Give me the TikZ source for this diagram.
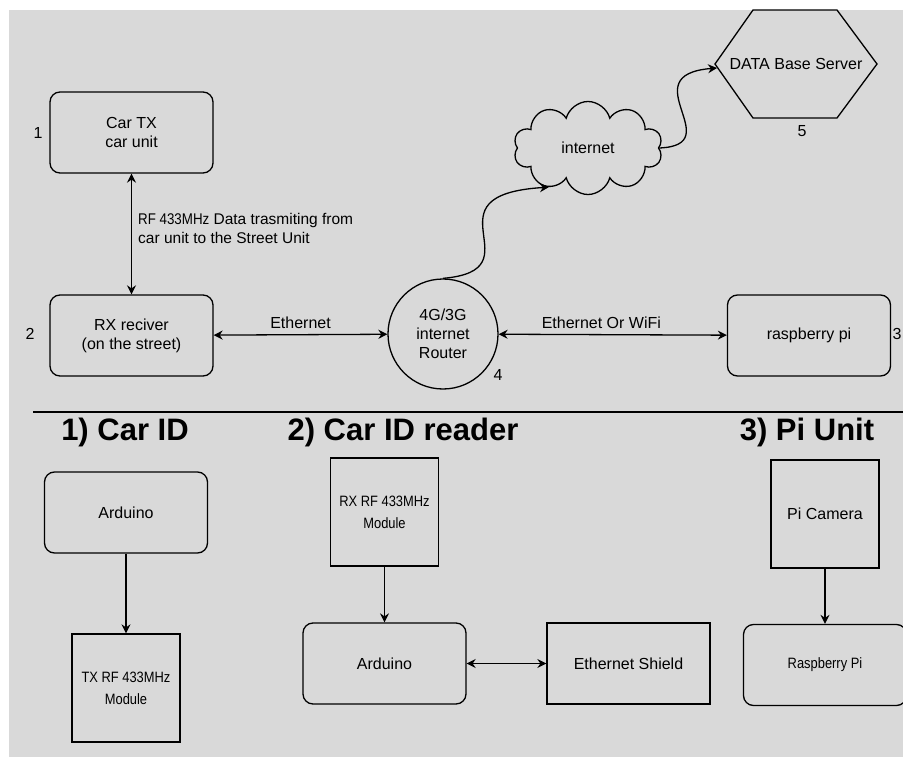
\documentclass[tikz,border=0pt]{standalone}
\usepackage{fontspec}
\setmainfont{Liberation Sans}
\newfontfamily\narrowfont[FakeStretch=0.86]{Liberation Sans}
\usetikzlibrary{arrows.meta}
\usetikzlibrary{positioning}
\usetikzlibrary{shapes.symbols}

\definecolor{bggray}{RGB}{217,217,217}

\tikzset{
  unit/.style={draw, rounded corners=10pt, line width=1.3pt, minimum width=163pt,
    minimum height=81pt, align=center, font=\fontsize{16}{19}\selectfont},
  module/.style={draw, line width=1.3pt, minimum width=108pt, minimum height=108pt,
    align=center, font=\fontsize{16}{19}\selectfont},
  link/.style={line width=1.3pt, -{Stealth[length=9pt,width=9pt,inset=3pt]}},
  both/.style={line width=1.3pt, {Stealth[length=9pt,width=9pt,inset=3pt]}-{Stealth[length=9pt,width=9pt,inset=3pt]}},
  num/.style={font=\fontsize{16}{19}\selectfont},
  txt/.style={font=\fontsize{16}{19}\selectfont},
  title/.style={font=\fontsize{31}{36}\selectfont\bfseries},
}

\begin{document}
\begin{tikzpicture}[x=1pt, y=-1pt]
  \fill[bggray] (9,10) rectangle (903,757);
  \useasboundingbox (0,0) rectangle (903,757);

  % street side
  \node[unit] (cartx) at (131.5,132.5) {Car TX\\car unit};
  \node[unit] (rxst) at (131.5,335.5) {RX reciver\\(on the street)};
  \node[circle, draw, line width=1.3pt, minimum size=110pt, inner sep=0pt, align=center,
    font=\fontsize{16}{19}\selectfont] (router) at (443,334) {4G/3G\\internet\\Router};
  \node[unit] (rpi) at (809,335.5) {raspberry pi};
  \node[cloud, cloud puffs=10, cloud ignores aspect, draw, line width=1.3pt,
    minimum width=149pt, minimum height=93pt, txt] (inet) at (588,148) {internet};
  % hexagon for the server
  \draw[line width=1.3pt] (715,64) -- (753,10) -- (837,10) -- (877,64)
    -- (837,118) -- (753,118) -- cycle;
  \node[txt] (db) at (796,64) {DATA Base Server};
  \coordinate (dbin) at (717,68);

  \node[num] (n1) at (38,133) {1};
  \node[num] (n2) at (30,334) {2};
  \node[num] (n3) at (897,334) {3};
  \node[num] (n4) at (498,375) {4};
  \node[num] (n5) at (802,131) {5};

  \draw[both] (cartx) -- (rxst);
  \node[anchor=north west, align=left, inner sep=0pt, font=\fontsize{15.5}{19}\selectfont]
    (rflabel) at (138,213) {{\narrowfont RF 433MHz} Data trasmiting from\\car unit to the Street Unit};
  \draw[both] (rxst) -- node[above=2pt, txt] {Ethernet} (router);
  \draw[both] (router) -- node[above=2pt, pos=0.45, txt] {Ethernet Or WiFi} (rpi);
  \draw[link] (router.north) .. controls (540,270) and (420,195) .. (inet.225);
  \draw[link] (inet.east) .. controls (730,145) and (630,75) .. (dbin);

  \draw[line width=1.3pt] (33,412) -- (903,412);

  % units
  \node[title] (t1) at (125,432) {1) Car ID};
  \node[title] (t2) at (403,432) {2) Car ID reader};
  \node[title] (t3) at (807,432) {3) Pi Unit};

  \node[unit] (ard1) at (126,512.5) {Arduino};
  \node[module, font=\narrowfont\fontsize{15}{22}\selectfont] (txmod) at (126,688) {TX RF 433MHz\\Module};
  \draw[link] (ard1) -- (txmod);

  \node[module, font=\narrowfont\fontsize{15}{22}\selectfont] (rxmod) at (384.5,512) {RX RF 433MHz\\Module};
  \node[unit] (ard2) at (384.5,663.5) {Arduino};
  \node[module, minimum width=163pt, minimum height=81pt] (shield) at (628.5,663.5) {Ethernet Shield};
  \draw[link] (rxmod) -- (ard2);
  \draw[both] (ard2) -- (shield);

  \node[module] (picam) at (825,514) {Pi Camera};
  \node[unit, font=\narrowfont\fontsize{15}{19}\selectfont] (rpi2) at (825,665) {Raspberry Pi};
  \draw[link] (picam) -- (rpi2);
\end{tikzpicture}
\end{document}
